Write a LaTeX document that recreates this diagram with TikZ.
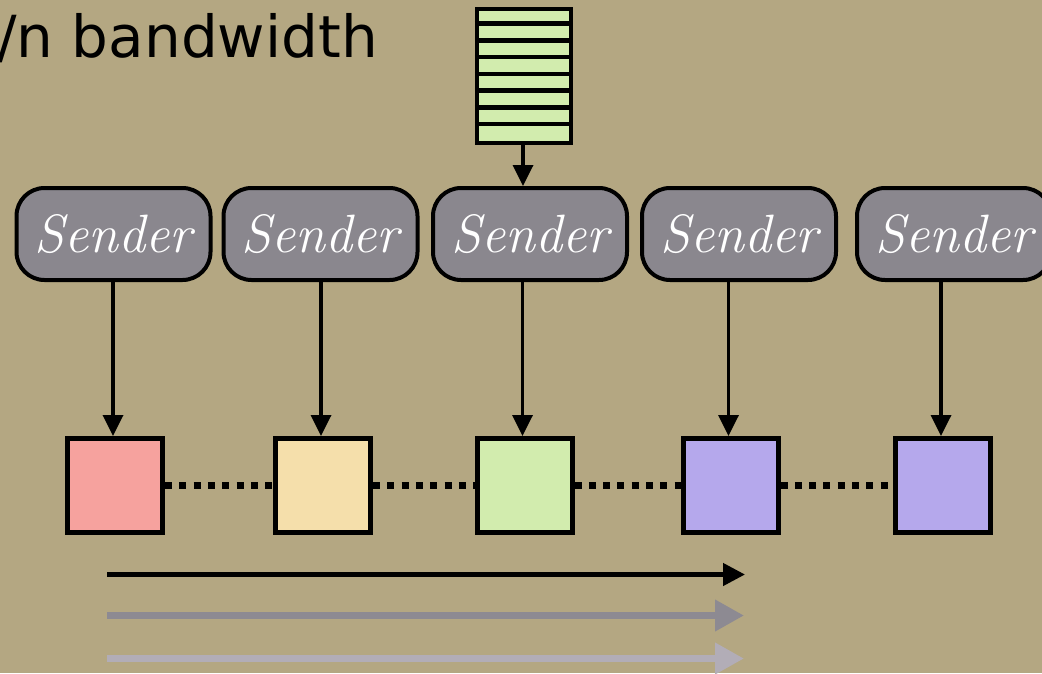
\documentclass[tikz,border=0pt]{standalone}
\usepackage{fontspec}
\newfontfamily\titlefont{DejaVu Sans}
\usetikzlibrary{arrows.meta}

\definecolor{paper}{HTML}{B4A782}
\definecolor{senderfill}{HTML}{8A878E}
\definecolor{qgreen}{HTML}{D2ECAE}
\definecolor{qpink}{HTML}{F6A29E}
\definecolor{qyellow}{HTML}{F5DFAB}
\definecolor{qpurple}{HTML}{B5A8EC}
\definecolor{rategray}{HTML}{8D8A92}
\definecolor{ratelight}{HTML}{B2ADB7}

\tikzset{
  senderbox/.style={draw=black, line width=4pt, fill=senderfill, rounded corners=28pt,
    minimum width=194pt, minimum height=92pt, inner sep=0pt, text=white,
    font=\fontsize{54}{56}\selectfont\itshape},
  slot/.style={draw=black, line width=5pt, minimum width=95pt, minimum height=94pt, inner sep=0pt},
  feed/.style={line width=3.5pt, -{Triangle[length=21pt,width=20pt]}},
  chain/.style={line width=7pt, dash pattern=on 7pt off 7.3pt},
  rate/.style={line width=4.5pt, -{Triangle[length=22pt,width=22pt]}},
  wide rate/.style={line width=7pt, -{Triangle[length=29pt,width=30pt]}},
}

\begin{document}
\begin{tikzpicture}[x=1pt, y=-1pt]
  % page and background
  \useasboundingbox (0,0) rectangle (1042,673);
  \fill[paper] (0,0) rectangle (1042,673);

  % heading
  \node[anchor=base east, inner sep=0pt, font=\titlefont\fontsize{58}{62}\selectfont] (title) at (378,57) {/n bandwidth};

  % message queue
  \node[draw=black, line width=4.5pt, fill=qgreen, minimum width=94pt, minimum height=134pt, inner sep=0pt] (queue) at (524,76) {};
  \foreach \k in {1,...,7} {
    \draw[line width=4.5pt] ([yshift=-\k*16.75pt]queue.north west) -- ([yshift=-\k*16.75pt]queue.north east);
  }

  % senders
  \node[senderbox] (s1) at (113.5,234) {Sender};
  \node[senderbox] (s2) at (320.5,234) {Sender};
  \node[senderbox] (s3) at (530,234) {Sender};
  \node[senderbox] (s4) at (739,234) {Sender};
  \node[senderbox] (s5) at (954,234) {Sender};

  % receiving slots
  \node[slot, fill=qpink]   (r1) at (115,485.5) {};
  \node[slot, fill=qyellow] (r2) at (323,485.5) {};
  \node[slot, fill=qgreen]  (r3) at (524.5,485.5) {};
  \node[slot, fill=qpurple] (r4) at (730.5,485.5) {};
  \node[slot, fill=qpurple] (r5) at (943,485.5) {};

  % dotted links between slots
  \draw[chain] (r1.east) -- (r2.west);
  \draw[chain] (r2.east) -- (r3.west);
  \draw[chain] (r3.east) -- (r4.west);
  \draw[chain] (r4.east) -- (r5.west);

  % queue feeds the middle sender
  \draw[feed] ([xshift=-1pt]queue.south) -- ([xshift=-1pt]queue.south |- s3.north);

  % senders feed their slots
  \foreach \i in {1,...,5} {
    \draw[feed] ([xshift=-2pt]r\i.north |- s\i.south) -- ([xshift=-2pt]r\i.north);
  }

  % rate arrows
  \coordinate (a0) at (107,574.5);  \coordinate (a1) at (745,574.5);
  \coordinate (b0) at (107,615.5);  \coordinate (b1) at (744,615.5);
  \coordinate (c0) at (107,658.5);  \coordinate (c1) at (744,658.5);
  \draw[rate, black] (a0) -- (a1);
  \draw[wide rate, rategray] (b0) -- (b1);
  \draw[wide rate, ratelight] (c0) -- (c1);
\end{tikzpicture}
\end{document}
